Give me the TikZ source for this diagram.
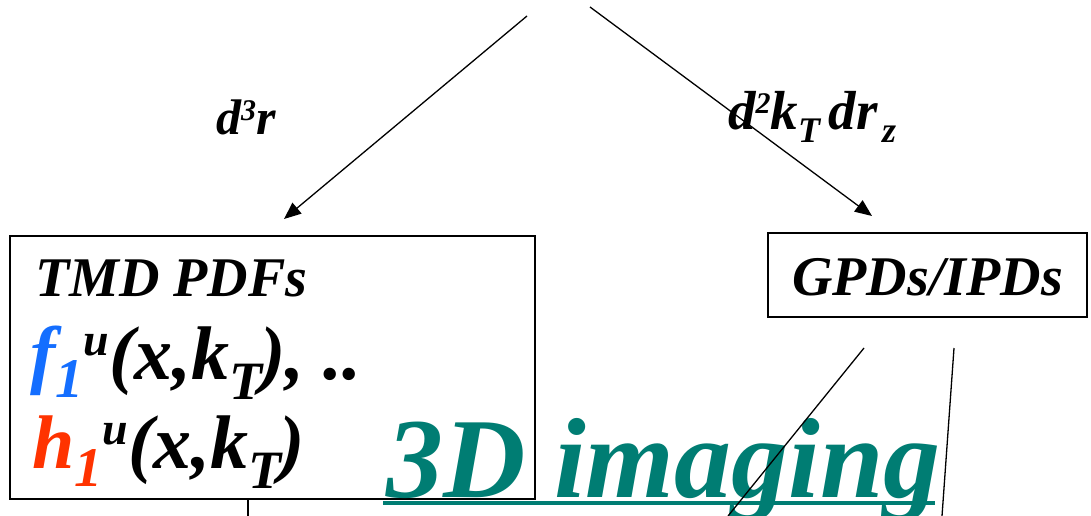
\documentclass[tikz,border=0pt]{standalone}
\usepackage{fontspec}
\setmainfont{Liberation Serif}
\usetikzlibrary{arrows.meta}
\definecolor{fblue}{RGB}{20,110,255}
\definecolor{hred}{RGB}{255,51,0}
\definecolor{imgteal}{RGB}{0,125,115}
\newcommand{\fs}[1]{\fontsize{#1}{#1}\selectfont}
\tikzset{
  conn/.style={line width=1.3pt, -{Triangle[length=17pt,width=14pt]}},
  plainline/.style={line width=1.3pt},
  boxnode/.style={draw, line width=1.6pt, inner sep=0pt},
  txt/.style={inner sep=0pt, anchor=base west, font=\bfseries\itshape},
}
\begin{document}
\begin{tikzpicture}[x=1pt,y=-1pt]
\useasboundingbox (0,0) rectangle (1091,516);
\clip (0,0) rectangle (1091,516);
\fill[white] (0,0) rectangle (1091,516);

% boxes
\node[boxnode, minimum width=525pt, minimum height=263pt] (tmd) at (272.5,367.5) {};
\node[boxnode, minimum width=319pt, minimum height=84pt] (gpd) at (927.5,275) {};

% texts
\node[txt] (tmdt) at (35,296) {\fs{56}TMD PDFs};
\node[txt] (fline) at (30,379) {\fs{76}\textcolor{fblue}{f\raisebox{-18pt}{\fs{56}1}}\raisebox{24pt}{\fs{46}u}(x,k\raisebox{-20pt}{\fs{54}T}\kern-2pt), ..};
\node[txt] (hline) at (32,468) {\fs{76}\textcolor{hred}{h\raisebox{-18pt}{\fs{56}1}}\raisebox{24pt}{\fs{46}u}(x,k\raisebox{-20pt}{\fs{54}T}\kern-2pt)};
\node[txt] (gpdt) at (792,295) {\fs{56}GPDs/IPDs};
\node[txt] (lab1) at (216,135) {\fs{50}d\raisebox{14pt}{\fs{30}3}r};
\node[txt] (lab2) at (728,129) {\fs{55}d\raisebox{16pt}{\fs{30}2}k\raisebox{-13pt}{\fs{36}T}\kern8pt d\kern1pt r\kern4pt\raisebox{-13pt}{\fs{36}z}};
\node[txt, text=imgteal] (img) at (386,497) {\fs{114}3D imaging};
\draw[imgteal, line width=4pt] (383,503) coordinate (ul1) -- (935,503) coordinate (ul2);

% connectors
\coordinate (s1) at (527,16);
\coordinate (e1) at (284,219);
\coordinate (s2) at (590,7);
\coordinate (e2) at (872,216);
\draw[conn] (s1) -- (e1);
\draw[conn] (s2) -- (e2);

\coordinate (tb) at (248,516);
\draw[plainline] (tmd.south -| tb) -- (tb);
\coordinate (g1a) at (864,348);
\coordinate (g1b) at (728,516);
\coordinate (g2a) at (954,348);
\coordinate (g2b) at (942,516);
\draw[plainline] (g1a) -- (g1b);
\draw[plainline] (g2a) -- (g2b);
\end{tikzpicture}
\end{document}
